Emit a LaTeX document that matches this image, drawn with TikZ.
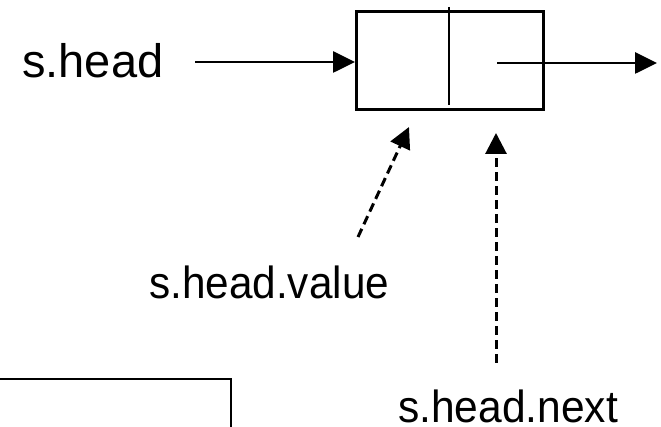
\documentclass[tikz,border=0pt]{standalone}
\usepackage{fontspec}
\usepackage{graphicx}
\setmainfont{Liberation Sans}
\usetikzlibrary{arrows.meta}
\begin{document}
\begin{tikzpicture}[x=1pt,y=-1pt,
  label/.style={anchor=base west,inner sep=0pt},
  link/.style={line width=2.7pt,-{Triangle[length=22pt,width=21pt]}},
  ptr/.style={line width=3pt,dash pattern=on 9pt off 5pt,-{Triangle[length=21pt,width=21pt]}},
  frame/.style={line width=2.7pt}]
\useasboundingbox (0,0) rectangle (661,427);

% list cell with value and next fields
\node[draw,frame,minimum width=187pt,minimum height=98pt,inner sep=0pt,anchor=north west] (cell) at (355,10) {};
\coordinate (divtop) at (449,7);
\coordinate (divbot) at (449,105);
\draw[frame] (divtop) -- (divbot);

% labels
\node[label] (head) at (22,78) {\fontsize{47}{54}\selectfont s.head};
\node[label] (value) at (149,299) {\scalebox{0.94}[1]{\fontsize{45}{52}\selectfont s.head.value}};
\node[label] (next) at (398,422) {\scalebox{0.945}[1]{\fontsize{45}{52}\selectfont s.head.next}};

% head pointer into the cell
\coordinate (headstart) at (195,62);
\draw[link] (headstart) -- (cell.west |- headstart);

% next pointer out of the cell
\coordinate (nextstart) at (497,63);
\coordinate (nextend) at (657,63);
\draw[link] (nextstart) -- (nextend);

% dashed pointers to the fields
\coordinate (vfrom) at (358,237);
\coordinate (vto) at (409,127);
\draw[ptr] (vfrom) -- (vto);
\coordinate (nfrom) at (496,363);
\coordinate (nto) at (496,133);
\draw[ptr] (nfrom) -- (nto);

% partial frame at the lower left
\coordinate (fa) at (0,379);
\coordinate (fb) at (231,379);
\coordinate (fc) at (231,427);
\draw[frame] (fa) -- (fb) -- (fc);
\end{tikzpicture}
\end{document}
